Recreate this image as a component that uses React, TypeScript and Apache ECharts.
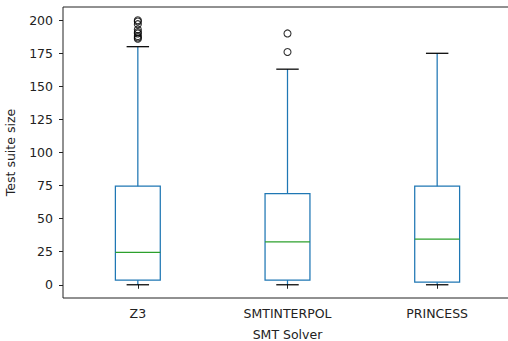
import React, { useEffect, useRef } from "react";
import * as echarts from "echarts";

const categories = ["Z3", "SMTINTERPOL", "PRINCESS"];
// [min whisker, Q1, median, Q3, max whisker]
const z3Stats = [0, 3.5, 24.5, 74.5, 180];
const smtinterpolStats = [0, 3.5, 32.5, 69, 163];
const princessStats = [0, 2, 34.5, 74.5, 175];
const z3Outliers = [186, 187, 188, 190, 191, 193, 197, 199, 200];
const smtinterpolOutliers = [176, 190];
const princessOutliers: number[] = [];
const yTicks = [0, 25, 50, 75, 100, 125, 150, 175, 200];

const BLUE = "#1f77b4";
const GREEN = "#2ca02c";
const FONT = "DejaVu Sans";
const FS = 12.5;

export default function App() {
  const ref = useRef<HTMLDivElement>(null);
  useEffect(() => {
    if (!ref.current) return;
    const chart = echarts.init(ref.current, undefined, { renderer: "svg" });
    const statsList = [z3Stats, smtinterpolStats, princessStats];
    const outList = [z3Outliers, smtinterpolOutliers, princessOutliers];
    const boxData = statsList.map((s, i) => [i, ...s]);
    const outlierData: number[][] = [];
    outList.forEach((arr, i) => arr.forEach((v) => outlierData.push([i, v])));

    chart.setOption({
      animation: false,
      grid: {
        left: 63, top: 7, width: 449, height: 291,
        show: true, borderColor: "#222", borderWidth: 1,
        containLabel: false, outerBoundsMode: "none",
      },
      xAxis: {
        type: "category",
        data: categories,
        boundaryGap: true,
        name: "SMT Solver",
        nameLocation: "middle",
        nameGap: 30,
        nameTextStyle: { fontFamily: FONT, fontSize: FS, color: "#222", lineHeight: 12 },
        axisLine: { show: false },
        axisTick: { show: true, alignWithLabel: true, length: 4, lineStyle: { color: "#222" } },
        axisLabel: { fontFamily: FONT, fontSize: FS, color: "#222", margin: 9 },
        splitLine: { show: false },
      },
      yAxis: {
        type: "value",
        min: -10,
        max: 210,
        name: "Test suite size",
        nameLocation: "middle",
        nameGap: 46,
        nameTextStyle: { fontFamily: FONT, fontSize: FS, color: "#222" },
        axisLine: { show: false },
        axisTick: { show: true, length: 4, customValues: yTicks, lineStyle: { color: "#222" } },
        axisLabel: { fontFamily: FONT, fontSize: FS, color: "#222", margin: 10, customValues: yTicks },
        splitLine: { show: false },
      },
      series: [
        {
          type: "custom",
          data: boxData,
          encode: { x: 0, y: [1, 2, 3, 4, 5] },
          renderItem: (params: any, api: any) => {
            const idx = api.value(0);
            const vals = [1, 2, 3, 4, 5].map((d) => api.value(d));
            const pts = vals.map((v) => api.coord([idx, v]));
            const x = pts[0][0];
            const band = api.size([1, 0])[0];
            const w = band * 0.3;
            const cw = w / 2;
            const [pMin, pQ1, pMed, pQ3, pMax] = pts.map((p: number[]) => p[1]);
            const lw = 1.25;
            return {
              type: "group",
              children: [
                { type: "line", shape: { x1: x, y1: pMin, x2: x, y2: pQ1 }, style: { stroke: BLUE, lineWidth: lw } },
                { type: "line", shape: { x1: x, y1: pQ3, x2: x, y2: pMax }, style: { stroke: BLUE, lineWidth: lw } },
                { type: "line", shape: { x1: x - cw / 2, y1: pMin, x2: x + cw / 2, y2: pMin }, style: { stroke: "#000", lineWidth: lw } },
                { type: "line", shape: { x1: x - cw / 2, y1: pMax, x2: x + cw / 2, y2: pMax }, style: { stroke: "#000", lineWidth: lw } },
                { type: "rect", shape: { x: x - w / 2, y: pQ3, width: w, height: pQ1 - pQ3 }, style: { fill: "none", stroke: BLUE, lineWidth: lw } },
                { type: "line", shape: { x1: x - w / 2, y1: pMed, x2: x + w / 2, y2: pMed }, style: { stroke: GREEN, lineWidth: lw } },
              ],
            };
          },
        },
        {
          type: "scatter",
          data: outlierData,
          symbol: "circle",
          symbolSize: 7,
          itemStyle: { color: "rgba(0,0,0,0)", borderColor: "#000", borderWidth: 1.1 },
        },
      ],
    });
    return () => chart.dispose();
  }, []);
  return <div ref={ref} style={{ position: "absolute", left: 0, top: 0, width: 508, height: 341 }} />;
}
